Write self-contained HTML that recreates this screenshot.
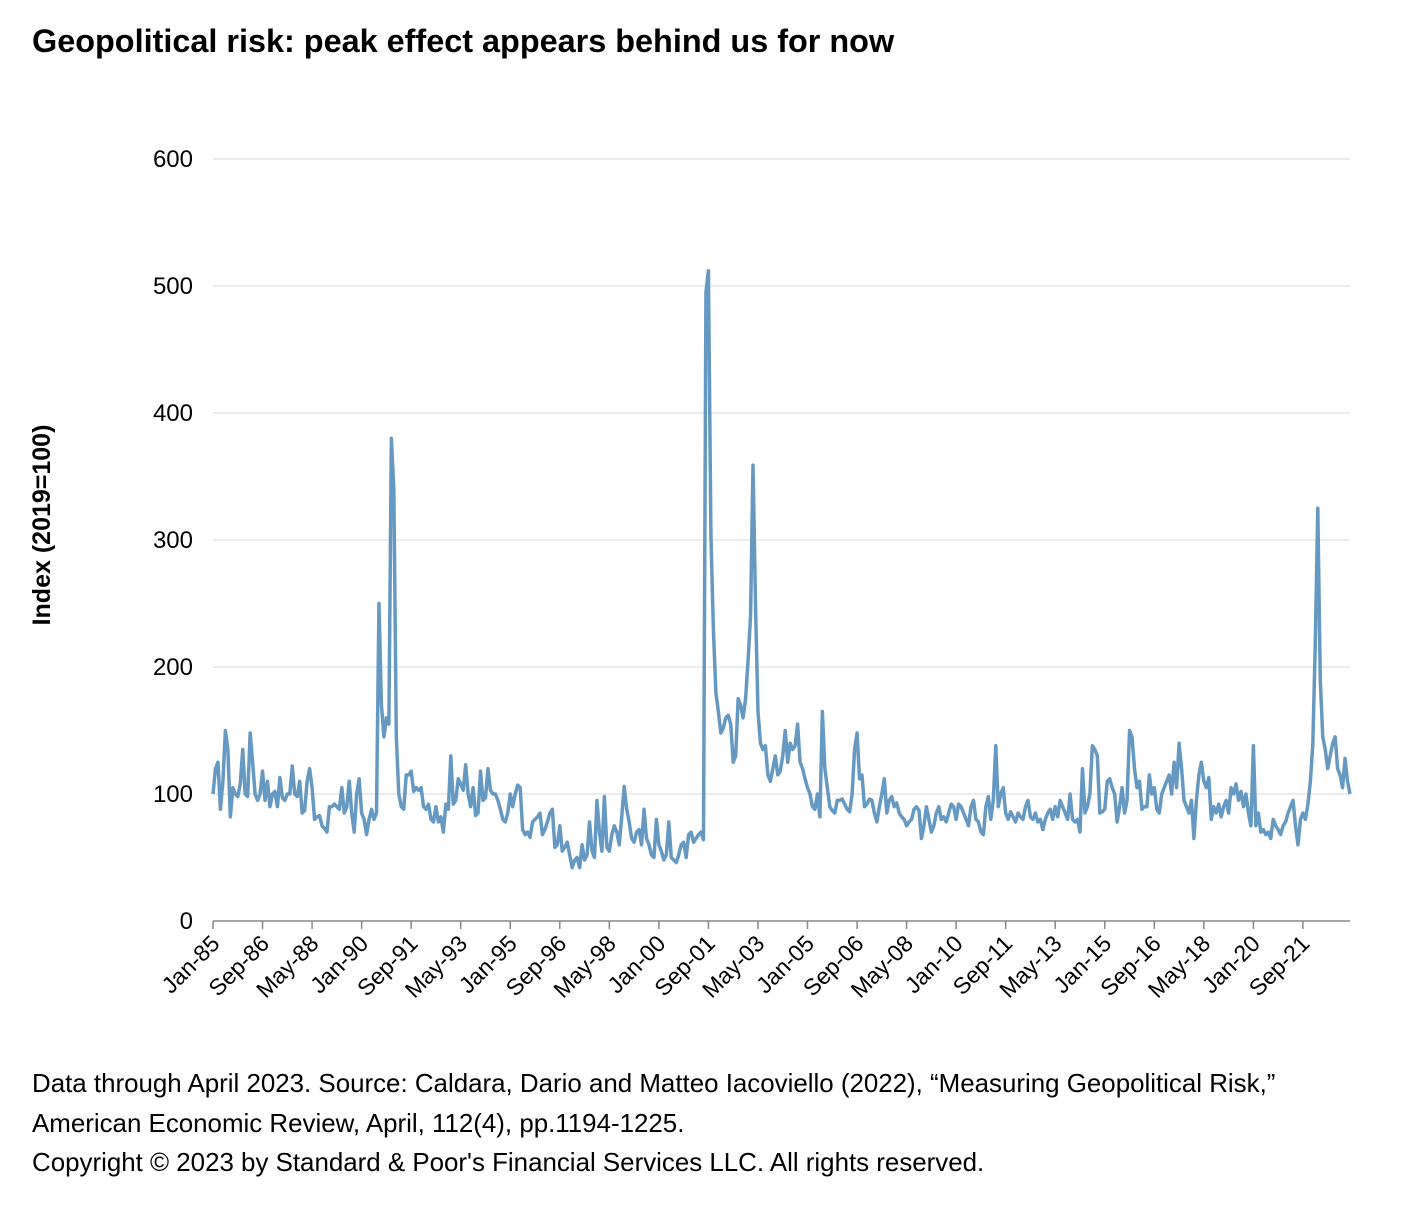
<!DOCTYPE html>
<html><head><meta charset="utf-8">
<style>
body{margin:0;background:#fff;font-family:"Liberation Sans",Arial,sans-serif;}
#wrap{position:relative;width:1408px;height:1214px;overflow:hidden;}
.title{position:absolute;left:32px;top:23px;font-size:32.4px;font-weight:bold;color:#000;white-space:nowrap;}
.foot{position:absolute;left:32px;font-size:25.9px;color:#000;white-space:nowrap;}
svg{position:absolute;left:0;top:0;}
</style></head><body>
<div id="wrap">
<div class="title">Geopolitical risk: peak effect appears behind us for now</div>
<svg id="chart" width="1408" height="1214"></svg>
<div class="foot" style="top:1070px">Data through April 2023. Source: Caldara, Dario and Matteo Iacoviello (2022), “Measuring Geopolitical Risk,”</div>
<div class="foot" style="top:1110px">American Economic Review, April, 112(4), pp.1194-1225.</div>
<div class="foot" style="top:1149px">Copyright © 2023 by Standard &amp; Poor's Financial Services LLC. All rights reserved.</div>
</div>
<script>
const startYear = 1985;
const yTicks = [0,100,200,300,400,500,600];
const xTickLabels = ["Jan-85","Sep-86","May-88","Jan-90","Sep-91","May-93","Jan-95","Sep-96","May-98","Jan-00","Sep-01","May-03","Jan-05","Sep-06","May-08","Jan-10","Sep-11","May-13","Jan-15","Sep-16","May-18","Jan-20","Sep-21"];
const gprValues = [
100,120,125,88,110,150,135,82,105,100,98,108,
135,100,98,148,125,100,95,100,118,95,110,90,
100,102,90,113,97,95,100,100,122,100,98,110,
85,87,110,120,105,80,82,83,75,73,70,90,
90,92,90,88,105,85,90,110,85,70,100,112,
85,80,68,80,88,80,85,250,170,145,160,155,
380,340,145,100,90,88,115,115,118,102,105,103,
105,90,88,92,80,78,90,78,82,70,92,88,
130,92,95,112,108,103,123,100,90,105,83,85,
118,95,97,120,103,100,100,95,88,80,78,85,
100,90,100,107,105,72,68,70,66,78,80,82,
85,68,72,78,85,88,58,60,75,55,58,62,
52,42,48,50,42,60,48,52,78,55,50,95,
70,55,98,58,55,68,75,70,60,82,106,88,
78,65,62,70,72,60,88,65,60,52,50,80,
60,55,48,52,78,50,48,46,52,60,62,50,
68,70,62,65,68,70,64,495,512,305,230,180,
165,148,152,160,162,155,125,130,175,170,160,175,
205,240,359,250,165,140,135,138,115,110,120,130,
115,118,130,150,125,140,135,138,155,125,120,112,
105,100,90,88,100,82,165,120,105,90,87,85,
95,95,96,92,88,86,100,135,148,112,115,90,
92,96,95,85,78,90,100,112,85,95,98,90,
93,85,82,80,75,78,80,88,90,87,65,75,
90,80,70,75,85,90,80,82,78,85,92,90,
80,92,90,85,80,75,90,95,80,78,70,68,
90,98,80,95,138,90,100,105,85,80,86,82,
78,85,82,80,90,95,82,80,85,78,80,72,
80,85,88,80,90,82,95,90,85,80,100,80,
78,80,70,120,85,90,100,138,135,130,85,86,
88,110,112,105,100,78,90,105,85,95,150,145,
120,105,110,88,90,90,115,100,105,88,85,100,
105,110,115,100,125,105,140,120,95,90,85,95,
65,95,115,125,110,105,113,80,90,85,92,82,
90,95,85,105,100,108,95,102,90,100,85,75,
138,75,85,70,72,68,70,65,80,75,72,68,
75,78,85,90,95,75,60,80,85,80,92,110,
140,220,325,190,145,135,120,130,140,145,120,115,
105,128,110,100
];
const NS="http://www.w3.org/2000/svg";
const svg=document.getElementById('chart');
const X0=213,X1=1350,Y0=921,Y600=159;
const n=gprValues.length;
function xScale(i){return X0+(X1-X0)*i/(n-1);}
function yScale(v){return Y0-(Y0-Y600)*v/600;}
function mk(tag,attrs){const e=document.createElementNS(NS,tag);for(const k in attrs)e.setAttribute(k,attrs[k]);svg.appendChild(e);return e;}
yTicks.forEach(v=>{
  if(v>0){const g=mk('line',{x1:X0,x2:X1,y1:yScale(v),y2:yScale(v),stroke:'#d9d9d9','stroke-width':1});
  
  }
  const t=mk('text',{x:193,y:yScale(v)+8,'text-anchor':'end','font-size':24,fill:'#000','font-family':'Liberation Sans, Arial, sans-serif'});
  t.textContent=v;
  
  
});
const ax=mk('line',{x1:X0,x2:X1,y1:Y0,y2:Y0,stroke:'#888','stroke-width':1.5});


xTickLabels.forEach((lab,k)=>{
  const x=xScale(k*20);
  const tk=mk('line',{x1:x,x2:x,y1:Y0,y2:Y0+8,stroke:'#888','stroke-width':1.5});
  
  
  const t=mk('text',{x:0,y:0,'text-anchor':'end','font-size':23,fill:'#000','font-family':'Liberation Sans, Arial, sans-serif',transform:`translate(${x+8},${Y0+24}) rotate(-45)`});
  t.textContent=lab;
  
  
});
const yt=mk('text',{x:0,y:0,'text-anchor':'middle','font-size':25,'font-weight':'bold',fill:'#000','font-family':'Liberation Sans, Arial, sans-serif',transform:'translate(50,525) rotate(-90)'});
yt.textContent='Index (2019=100)';


let d='';
gprValues.forEach((v,i)=>{d+=(i?'L':'M')+xScale(i).toFixed(2)+','+yScale(v).toFixed(2);});
const line=mk('path',{d:d,fill:'none',stroke:'#6699c2','stroke-width':3.5,'stroke-linejoin':'round'});


</script>
</body></html>
